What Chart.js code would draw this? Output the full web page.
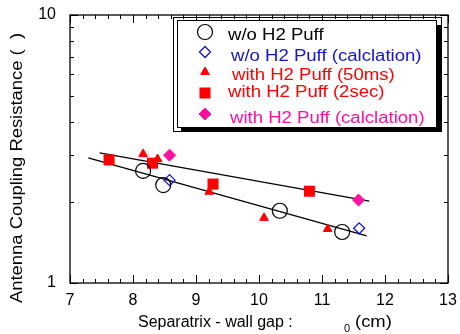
<!DOCTYPE html>
<html><head><meta charset="utf-8">
<script src="https://cdn.jsdelivr.net/npm/chart.js@4/dist/chart.umd.min.js"></script>
<style>html,body{margin:0;padding:0;background:#fff}#wrap{width:460px;height:334px}</style>
</head><body><div id="wrap"><canvas id="c" width="460" height="334"></canvas></div>
<script>
// ---- data ----
const seriesNames = ["w/o H2 Puff", "w/o H2 Puff (calclation)", "with H2 Puff (50ms)", "with H2 Puff (2sec)", "with H2 Puff (calclation)"];
const gapNoPuff = [8.16, 8.48, 10.33, 11.32];
const resNoPuff = [2.62, 2.32, 1.86, 1.55];
const gapNoPuffCalc = [8.58, 11.59];
const resNoPuffCalc = [2.42, 1.60];
const gapPuff50 = [8.16, 8.39, 9.21, 10.08, 11.09];
const resPuff50 = [3.03, 2.90, 2.19, 1.75, 1.59];
const gapPuff2s = [7.62, 8.31, 9.27, 10.80];
const resPuff2s = [2.88, 2.80, 2.34, 2.20];
const gapPuffCalc = [8.58, 11.58];
const resPuffCalc = [3.00, 2.04];
const fitUpperGap = [7.47, 11.75];
const fitUpperRes = [3.06, 2.02];
const fitLowerGap = [7.29, 11.71];
const fitLowerRes = [2.93, 1.50];
const xTickLabels = [7, 8, 9, 10, 11, 12, 13];
const yTickLabels = [1, 10];
const yTitle = "Antenna Coupling Resistance (  )";
const xTitle = "Separatrix - wall gap :";
const xTitleSub = "0";
const xTitleUnit = "(cm)";

const FONT = "'Liberation Sans', Arial, Helvetica, sans-serif";
const pts = (xs, ys) => xs.map((x, i) => ({x: x, y: ys[i]}));

const datasets = [
  {label: seriesNames[0], data: pts(gapNoPuff, resNoPuff), showLine: false, pointStyle: 'circle', pointRadius: 7.5,
   borderColor: '#000', backgroundColor: 'rgba(0,0,0,0)', pointBorderWidth: 1.2, legendColor: '#000'},
  {label: seriesNames[1], data: pts(gapNoPuffCalc, resNoPuffCalc), showLine: false, pointStyle: 'rectRot', pointRadius: 5.5,
   borderColor: '#1414d2', backgroundColor: 'rgba(0,0,0,0)', pointBorderWidth: 1.3, legendColor: '#1414d2'},
  {label: seriesNames[2], data: pts(gapPuff50, resPuff50), showLine: false, pointStyle: 'triangle', pointRadius: 5,
   borderColor: '#ff0000', backgroundColor: '#ff0000', pointBorderWidth: 1, legendColor: '#ff0000'},
  {label: seriesNames[3], data: pts(gapPuff2s, resPuff2s), showLine: false, pointStyle: 'rect', pointRadius: 7.8,
   borderColor: '#ff0000', backgroundColor: '#ff0000', pointBorderWidth: 0, legendColor: '#ff0000'},
  {label: seriesNames[4], data: pts(gapPuffCalc, resPuffCalc), showLine: false, pointStyle: 'rectRot', pointRadius: 6,
   borderColor: '#ff10a0', backgroundColor: '#ff10a0', pointBorderWidth: 1, legendColor: '#ff10a0'},
  {label: 'fitUpper', data: pts(fitUpperGap, fitUpperRes), showLine: true, pointRadius: 0, borderColor: '#000', borderWidth: 1.3, fill: false, isFit: true},
  {label: 'fitLower', data: pts(fitLowerGap, fitLowerRes), showLine: true, pointRadius: 0, borderColor: '#000', borderWidth: 1.3, fill: false, isFit: true}
];

const framePlugin = {
  id: 'frame',
  afterDraw(chart) {
    const ctx = chart.ctx, a = chart.chartArea;
    const xs = chart.scales.x, ys = chart.scales.y;
    ctx.save();
    ctx.strokeStyle = '#000';
    ctx.lineWidth = 1.3;
    ctx.strokeRect(a.left, a.top, a.right - a.left, a.bottom - a.top);
    ctx.lineWidth = 1;
    ctx.beginPath();
    for (let i = 0; i <= 30; i++) {
      const v = xs.min + i * 0.2;
      const px = Math.round(xs.getPixelForValue(v)) + 0.5;
      const len = (i % 5 === 0) ? 8 : 4;
      ctx.moveTo(px, a.bottom); ctx.lineTo(px, a.bottom - len);
      ctx.moveTo(px, a.top); ctx.lineTo(px, a.top + len);
    }
    for (let v = 1; v <= 10; v++) {
      const py = Math.round(ys.getPixelForValue(v)) + 0.5;
      const len = (v === 1 || v === 10) ? 8 : 4;
      ctx.moveTo(a.left, py); ctx.lineTo(a.left + len, py);
      ctx.moveTo(a.right, py); ctx.lineTo(a.right - len, py);
    }
    ctx.stroke();

    // axis titles
    ctx.fillStyle = '#000';
    ctx.font = '16px ' + FONT;
    ctx.textBaseline = 'middle';
    ctx.save();
    ctx.translate(18, 168);
    ctx.rotate(-Math.PI / 2);
    ctx.scale(1.15, 1);
    ctx.textAlign = 'center';
    ctx.fillText(yTitle, 0, 0);
    ctx.restore();
    ctx.textAlign = 'left';
    ctx.fillText(xTitle, 138, 323);
    ctx.save();
    ctx.translate(355, 323);
    ctx.scale(1.15, 1);
    ctx.fillText(xTitleUnit, 0, 0);
    ctx.restore();
    ctx.font = '11px ' + FONT;
    ctx.textAlign = 'center';
    ctx.fillText(xTitleSub, 347, 329);

    // legend box
    ctx.fillStyle = '#000';
    ctx.fillRect(181, 25, 261, 107);
    ctx.fillStyle = '#fff';
    ctx.fillRect(177, 20, 260, 108);
    ctx.lineWidth = 1;
    ctx.strokeStyle = '#000';
    ctx.strokeRect(177.5, 20.5, 259, 107);
    ctx.strokeRect(173.5, 17.5, 268, 114);

    const symY = [32, 52, 72, 93, 114];
    const txtY = [36, 57, 76, 93, 119];
    const txtX = [228, 231, 232, 228, 230];
    ctx.font = '16px ' + FONT;
    ctx.textAlign = 'left';
    ctx.textBaseline = 'middle';
    chart.data.datasets.forEach((ds, i) => {
      if (ds.isFit) return;
      ctx.save();
      ctx.strokeStyle = ds.borderColor;
      ctx.fillStyle = ds.backgroundColor;
      ctx.lineWidth = ds.pointBorderWidth;
      Chart.helpers.drawPoint(ctx, {pointStyle: ds.pointStyle, radius: ds.pointRadius, rotation: 0, borderWidth: ds.pointBorderWidth}, 205, symY[i]);
      ctx.restore();
      ctx.save();
      ctx.fillStyle = ds.legendColor;
      ctx.translate(txtX[i], txtY[i]);
      ctx.scale(1.16, 1);
      ctx.fillText(ds.label, 0, 0);
      ctx.restore();
    });
    ctx.restore();
  }
};

new Chart(document.getElementById('c'), {
  type: 'scatter',
  data: {datasets: datasets},
  options: {
    responsive: false,
    devicePixelRatio: 1,
    animation: false,
    layout: {padding: {top: 15, right: 12, left: 0, bottom: 0}},
    plugins: {legend: {display: false}, tooltip: {enabled: false}},
    scales: {
      x: {
        type: 'linear', min: 7, max: 13,
        grid: {display: false, drawTicks: false},
        border: {display: false},
        afterBuildTicks: s => { s.ticks = xTickLabels.map(v => ({value: v})); },
        afterFit: s => { s.height = 51; s.paddingLeft = 0; s.paddingRight = 0; },
        ticks: {padding: 8, color: '#000', font: {family: FONT, size: 16}, maxRotation: 0, autoSkip: false,
                callback: v => String(v)}
      },
      y: {
        type: 'logarithmic', min: 1, max: 10,
        grid: {display: false, drawTicks: false},
        border: {display: false},
        afterBuildTicks: s => { s.ticks = yTickLabels.map(v => ({value: v})); },
        afterFit: s => { s.width = 70; s.paddingTop = 0; s.paddingBottom = 0; },
        ticks: {padding: 14, color: '#000', font: {family: FONT, size: 16}, autoSkip: false,
                callback: v => String(v)}
      }
    }
  },
  plugins: [framePlugin]
});
</script>
</body></html>
